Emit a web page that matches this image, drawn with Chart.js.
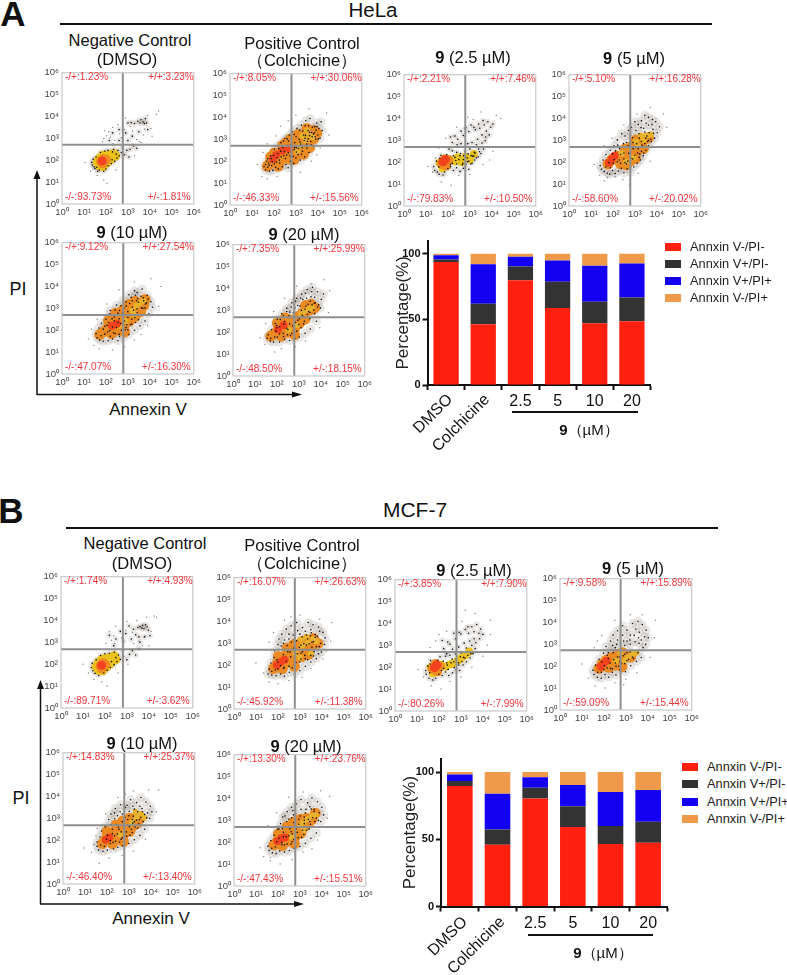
<!DOCTYPE html>
<html>
<head>
<meta charset="utf-8">
<script src="https://cdn.jsdelivr.net/npm/chart.js@4"></script>
<style>
  html, body { margin: 0; padding: 0; background: #fff; }
  #page { position: relative; width: 787px; height: 975px; overflow: hidden; font-family: "Liberation Sans", Arial, sans-serif; color: #111; }
  #page canvas { position: absolute; }
  .txt { position: absolute; white-space: nowrap; transform: translate(-50%, -50%); line-height: 1; }
  .rule { position: absolute; background: #111; }
  .swatch { position: absolute; width: 16px; height: 8px; }
  .leg { position: absolute; white-space: nowrap; font-size: 12.8px; line-height: 1; transform: translateY(-50%); color: #222; }
  svg { position: absolute; left: 0; top: 0; }
</style>
</head>
<body>
<div id="page"></div>
<script>
// ==========================
// BAR DATA
// ==========================
const barLabels = ["DMSO", "Colchicine", "2.5", "5", "10", "20"];
const seriesNames = ["Annxin V-/PI-", "Annxin V+/PI-", "Annxin V+/PI+", "Annxin V-/PI+"];
const seriesColors = ["#ff2010", "#333333", "#1400f0", "#ee9a4a"];

const helaLiveEarly = [93.73, 46.33, 79.83, 58.60, 47.07, 48.50];
const helaEarly = [1.81, 15.56, 10.50, 20.02, 16.30, 18.15];
const helaLate = [3.23, 30.06, 7.46, 16.28, 27.54, 25.99];
const helaNecro = [1.23, 8.05, 2.21, 5.10, 9.12, 7.35];

const mcfLiveEarly = [89.71, 45.92, 80.26, 59.09, 46.40, 47.43];
const mcfEarly = [3.62, 11.38, 7.99, 15.44, 13.40, 15.51];
const mcfLate = [4.93, 26.63, 7.90, 15.89, 25.37, 23.76];
const mcfNecro = [1.74, 16.07, 3.85, 9.58, 14.83, 13.30];

// ==========================
// QUADRANT GATES (log10 units)
// ==========================
const gateX = [2.77, 2.80, 2.79, 2.79, 2.79, 2.79, 2.82, 2.77, 2.80, 2.76, 2.79, 2.79];
const gateY = [2.71, 2.71, 2.70, 2.70, 2.70, 2.68, 2.68, 2.71, 2.70, 2.73, 2.68, 2.70];
const decadeTicks = ["10⁰", "10¹", "10²", "10³", "10⁴", "10⁵", "10⁶"];

// ==========================
// FLOW DOTS: x,y,x,y... in log10 units, hand estimated samples of each cloud
// ==========================
const a1Faint = [1.05,1.9,1.3,1.5,1.6,1.3,1.9,1.1,2.05,.95,2.4,2.9,2.03,3.12,1.85,2.85,1.95,3.35,2.3,3.5,2.62,3.2,2.9,3.93,3.1,3.55,3.4,2.95,3.7,3.15,4.05,3.45,4.3,4.1,4.4,4.25,3.9,4.05,2.8,2.05,3.3,2.2,2.45,1.55,2.7,3.03,2.2,3.05,3.6,2.8,4.1,3.1,2.12,3.3,2.55,3.62,2.84,3.4,3.22,3.32,3.53,2.86,1.9,2.98,2.33,2.76,3.75,3.42];
const a1Dots = [1.35,1.9,1.42,2.05,1.38,1.78,1.5,1.62,1.55,2.15,1.62,1.5,1.7,1.55,1.75,2.35,1.9,1.5,2.0,1.6,2.1,1.75,2.25,1.85,2.4,1.95,2.5,2.1,2.6,2.2,2.55,2.45,2.35,2.5,2.1,2.45,1.95,2.42,2.7,2.35,2.85,2.25,2.95,2.45,3.1,2.5,3.05,2.15,3.25,2.65,3.4,2.55,2.75,2.6,2.28,2.02,3.0,3.7,3.15,3.72,3.3,3.68,3.45,3.78,3.55,3.7,3.6,3.85,3.7,3.75,3.75,3.68,3.8,3.9,3.85,3.7,2.6,3.4,2.9,3.25,3.2,3.1,3.5,3.3,3.9,3.4,2.3,3.25,2.15,2.9,2.6,2.9,3.0,2.9,1.46,1.7,1.58,1.68,2.3,2.38,2.47,2.28];
const a1Warm = [1.62,1.92,1.72,2.08,1.86,2.2,2.05,2.2,2.2,2.22,2.33,2.28,1.72,1.76,1.86,1.72,2.05,1.9,2.22,2.06,2.42,2.2];
const a1Fill = [1.78,1.95,1.9,2.05,1.85,1.85,2.0,2.02];
const a1Core = [1.83,1.97];
const a1Specks = [];

const a2Faint = [1.25,1.85,1.45,1.3,1.7,1.2,2.15,1.3,2.8,1.1,3.2,1.5,3.7,2.0,4.1,2.6,4.5,3.2,4.4,4.2,3.6,4.4,3.0,4.1,2.3,3.6,1.7,2.8,1.5,2.4,3.95,2.3,2.65,3.85,2.1,3.15];
const a2Dots = [1.55,1.75,1.62,1.6,1.68,2.0,1.72,1.72,1.8,1.55,1.85,2.25,1.9,1.8,1.95,1.58,2.02,2.55,2.08,1.72,2.15,2.7,2.2,1.65,2.25,2.05,2.32,2.85,2.38,1.75,2.45,2.25,2.5,3.05,2.55,1.85,2.6,2.72,2.65,1.7,2.7,3.2,2.75,2.0,2.8,2.4,2.85,3.35,2.9,1.9,2.95,2.85,3.0,2.15,3.05,3.5,3.1,2.3,3.15,3.0,3.2,2.05,3.25,3.65,3.3,2.45,3.35,3.2,3.4,2.2,3.45,3.85,3.5,2.6,3.55,3.4,3.6,2.4,3.65,3.95,3.7,2.75,3.75,3.55,3.8,2.7,3.85,3.3,3.9,3.0,3.95,3.75,4.0,3.2,4.05,3.5,4.1,3.05,4.15,3.8,4.2,3.4,3.02,2.62,2.41,2.63,2.18,2.35,1.88,2.12,2.58,2.28,3.22,2.78,3.42,3.05,3.62,3.17,3.31,3.38,3.01,3.12,2.84,2.72,2.6,3.02,2.31,2.46,2.12,1.96,1.76,1.92,3.71,3.31,3.52,2.91,3.86,3.58,2.78,2.18,2.92,2.52,3.28,2.62];
const a2Warm = [3.2,2.7,3.45,2.95,3.6,3.2,3.3,3.15,3.75,3.1,3.5,3.4,3.05,2.45];
const a2Fill = [1.82,1.92,2.08,2.08,2.35,2.3,2.02,2.38,2.6,2.55,2.88,2.48,3.08,2.78,3.36,2.98,3.58,3.18,3.28,2.58,2.68,2.12,3.8,3.02,2.3,2.0,2.55,2.85,1.85,2.2,3.1,2.35,2.2,1.78,2.92,2.08,3.35,2.32,3.62,2.62,3.8,3.4,3.5,3.5,3.1,3.22,2.75,3.0,2.4,2.72,1.7,1.78,3.95,3.28];
const a2Core = [2.1,2.28,2.38,2.48,2.68,2.58,1.95,2.1];
const a2Specks = [1.78,1.82,1.92,1.98,2.02,1.88,2.14,2.16,2.26,1.92,2.33,2.2,2.47,2.44,2.52,2.12,2.65,2.38,2.73,2.25,2.78,2.76,2.88,2.22,2.94,2.62,3.02,2.42,3.12,2.58,3.18,2.88,3.25,2.32,3.32,2.72,3.38,2.95,3.44,3.18,3.5,2.78,3.56,3.02,3.62,3.32,3.68,2.9,3.74,3.12,3.8,3.25,3.88,3.12,3.42,3.62,3.58,3.62,3.18,3.42,2.92,3.22,2.66,2.92,2.44,2.92,2.22,2.58,1.98,2.26,1.72,2.12,1.62,1.85,3.92,3.42,4.02,3.02,3.96,3.58];

const a3Faint = [1.1,1.8,1.3,1.55,1.7,1.1,2.15,.95,2.5,1.4,3.0,1.45,3.6,1.9,4.05,2.5,4.4,4.0,4.2,4.15,3.5,4.3,2.9,4.05,2.4,3.6,1.9,3.1,1.6,2.65,2.3,3.2,2.75,3.55,3.15,3.95,1.45,2.2,3.9,2.1];
const a3Dots = [1.35,1.8,1.4,1.62,1.48,2.05,1.52,1.55,1.6,1.45,1.68,2.32,1.78,1.42,1.85,1.55,2.0,1.7,2.12,1.8,2.25,1.62,2.4,1.75,2.55,1.58,2.7,1.72,2.82,1.9,2.95,1.68,3.1,1.95,3.22,2.1,3.38,2.25,3.5,2.4,3.62,2.6,3.4,2.6,3.2,2.45,3.05,2.3,2.88,2.2,2.7,2.12,2.55,2.3,2.4,2.45,2.2,2.52,2.05,2.6,2.78,2.48,3.0,2.6,3.3,2.8,3.55,2.88,3.7,2.98,2.2,2.9,2.45,3.05,2.7,3.22,2.95,3.4,3.18,3.6,3.4,3.75,3.6,3.9,3.82,3.85,3.95,3.6,3.75,3.42,3.55,3.25,3.35,3.05,3.1,2.9,2.9,2.85,2.6,2.85,2.42,2.8,3.65,3.7,3.45,3.55,3.25,3.48,3.05,3.7,2.82,3.58,2.6,3.42,2.32,3.2,2.12,3.15,4.05,3.75,3.88,3.25,3.72,3.15,2.68,1.95,2.95,2.05,3.18,2.28];
const a3Warm = [1.62,1.98,1.75,1.72,1.95,1.85,2.1,2.12,2.3,2.05,2.45,2.22,2.62,2.0,2.8,2.25,3.0,2.12,3.18,2.38];
const a3Fill = [1.72,1.92,1.85,2.12,1.92,1.85,2.02,2.1];
const a3Core = [1.78,2.02,1.88,2.12];
const a3Specks = [2.2,1.95,2.32,2.22,2.4,1.92,2.5,2.12,2.58,2.4,2.66,1.88,2.72,2.3,2.88,2.02,2.92,2.38,3.04,1.92,3.12,2.28,3.24,2.42,3.3,2.2,3.44,2.48,2.25,2.3,1.58,1.78,1.62,2.18,1.95,2.35,2.12,1.9,2.36,2.08];

const a4Faint = [1.15,1.9,1.4,1.4,1.6,1.15,2.45,1.2,2.75,.95,3.15,1.5,3.7,2.05,4.1,2.7,4.45,3.6,4.3,4.2,3.7,4.5,3.1,4.2,2.5,3.7,1.95,3.1,1.6,2.75,1.75,1.3,2.1,1.35];
const a4Dots = [1.42,1.85,1.48,1.68,1.55,2.1,1.6,1.58,1.68,2.35,1.75,1.5,1.85,1.45,1.98,1.62,2.1,1.48,2.25,1.6,2.38,1.72,2.5,1.52,2.65,1.7,2.8,1.55,2.95,1.78,3.1,1.95,3.25,2.1,3.38,2.3,3.5,2.55,3.62,2.75,3.75,2.95,3.9,3.1,4.02,3.35,4.12,3.62,3.95,3.85,3.8,3.95,3.62,4.05,3.45,4.15,3.3,3.9,3.15,3.72,3.0,3.85,2.85,3.6,2.7,3.45,2.55,3.2,2.4,3.3,2.2,3.02,2.05,2.75,1.88,2.55,2.3,2.62,2.62,2.9,2.9,3.12,3.18,3.3,3.4,3.55,3.62,3.7,3.82,3.5,3.55,3.2,3.3,2.95,3.02,2.68,2.75,2.4,2.5,2.15,2.2,2.02,2.9,2.15,3.12,2.42,3.35,2.72,3.62,3.0,3.2,2.22,2.62,1.92,2.35,1.95,2.05,2.12,1.82,1.98,3.05,3.45,2.8,3.22];
const a4Warm = [3.15,2.75,3.4,3.0,3.55,3.22,3.28,3.22,3.05,2.95,3.72,3.28,2.6,2.02,2.95,2.22,2.4,2.4];
const a4Fill = [1.78,1.92,1.95,2.12,2.18,2.28,2.42,2.1,2.65,2.28,2.9,2.4,2.55,2.6,2.85,2.72,3.1,2.5,3.2,2.82,2.35,1.92,2.78,2.05,3.38,2.62,3.02,2.18,3.42,3.05,3.05,3.02,2.62,1.88,3.62,3.12];
const a4Core = [1.82,1.98,1.95,2.15,2.08,2.3];
const a4Specks = [1.68,1.78,1.88,1.75,2.02,1.95,2.28,2.1,2.35,2.35,2.5,2.42,2.55,1.98,2.68,2.05,2.72,2.42,2.82,2.18,2.92,2.62,3.0,2.32,3.08,2.85,3.15,2.62,3.22,2.38,3.3,2.5,3.32,2.78,3.4,2.42,3.45,2.85,3.5,3.1,3.58,2.95,3.65,3.35,3.72,3.05,3.85,3.32,3.45,3.38,3.2,3.1,2.92,2.9,2.7,2.75,2.12,2.52,1.98,2.38,2.22,2.78,2.48,2.85,3.78,3.72,3.52,3.78,3.28,3.58];

const a5Faint = [1.2,1.6,1.45,1.3,1.7,1.15,2.3,1.1,2.85,1.25,3.3,1.55,3.9,2.2,4.4,3.1,4.5,4.0,4.05,4.35,3.3,4.2,2.6,3.85,2.05,3.2,1.6,2.5,1.35,2.05,3.6,1.8];
const a5Dots = [1.55,1.85,1.6,1.65,1.68,2.1,1.72,1.55,1.8,2.32,1.88,1.5,2.0,2.5,2.1,1.52,2.18,2.75,2.3,1.6,2.42,2.92,2.55,1.52,2.68,3.12,2.8,1.65,2.92,3.3,3.05,1.8,3.15,3.5,3.3,2.0,3.42,3.72,3.55,2.2,3.65,3.88,3.78,2.42,3.88,3.6,3.95,2.75,4.05,3.3,4.12,3.05,3.8,3.2,3.6,3.55,3.4,3.35,3.2,3.05,3.0,2.85,2.8,2.6,2.55,2.35,2.3,2.15,2.08,1.92,2.42,1.85,2.7,2.0,2.95,2.25,3.18,2.5,3.42,2.8,3.68,3.0,2.28,2.52,2.55,2.78,2.82,3.0,3.08,3.22,3.35,3.6,2.6,1.82,2.88,2.02,3.12,2.25,3.48,2.48,2.2,2.9,2.48,3.15,2.78,3.38,3.05,3.62,3.3,3.8,3.92,3.42,3.72,3.35,1.95,2.18,2.12,2.35,2.38,2.6];
const a5Warm = [3.2,2.9,3.4,3.12,3.55,3.25,3.7,3.35,2.6,2.2,2.9,2.42,3.3,2.72];
const a5Fill = [1.88,1.92,2.08,2.1,2.3,2.28,2.52,2.45,2.72,2.62,2.95,2.72,3.15,2.85,3.35,3.05,3.55,3.15,3.72,3.12,2.25,1.85,2.55,2.0,2.82,2.2,3.08,2.42,3.32,2.62,2.12,2.45,2.45,2.78,2.8,2.95,3.05,3.18,3.32,3.32,3.58,2.85,3.78,3.4,2.85,1.92,1.72,1.8];
const a5Core = [2.28,2.2,2.5,2.3];
const a5Specks = [1.78,1.75,1.95,1.82,2.05,2.22,2.18,1.98,2.35,1.88,2.38,2.42,2.48,2.12,2.6,2.52,2.68,2.3,2.76,2.78,2.85,2.42,2.92,2.12,3.0,2.58,3.1,2.72,3.18,2.28,3.26,2.92,3.32,2.58,3.42,2.98,3.48,3.28,3.55,2.72,3.62,3.02,3.7,3.48,3.78,3.02,3.85,3.25,2.22,2.68,2.62,2.9,2.92,3.1,3.2,3.35,3.45,3.45,1.88,2.05,2.2,1.72,2.62,1.72,3.0,2.02,3.35,2.35];

const a6Faint = [1.25,1.75,1.45,1.45,1.9,1.1,2.2,1.25,2.85,1.35,3.3,1.6,3.95,2.2,4.35,2.9,4.4,3.9,4.15,4.4,3.55,4.2,2.9,4.1,2.35,3.55,1.85,2.95,1.5,2.4];
const a6Dots = [1.55,1.72,1.6,1.88,1.7,1.6,1.75,2.12,1.85,1.55,1.92,2.4,2.02,2.6,2.12,1.55,2.22,2.85,2.35,1.68,2.45,3.1,2.58,1.62,2.68,3.35,2.82,1.72,2.9,3.55,3.02,1.78,3.12,3.75,3.28,1.95,3.38,3.95,3.52,2.15,3.62,4.05,3.8,2.5,3.85,3.85,3.98,3.1,4.02,3.5,4.12,3.75,3.9,3.25,3.72,3.6,3.52,3.42,3.32,3.2,3.12,3.0,2.95,3.22,2.75,2.9,2.55,2.75,2.35,2.5,2.12,2.25,1.95,2.05,2.5,2.12,2.78,2.1,3.0,2.35,3.25,2.5,3.5,2.62,3.72,2.85,2.45,2.95,2.65,3.15,2.85,3.42,3.08,3.55,3.3,3.78,3.58,3.85,3.7,3.32,3.45,2.95,3.2,2.72,2.95,2.55,2.68,1.95,2.28,1.95,2.02,1.78];
const a6Warm = [3.25,2.95,3.45,3.05,3.6,3.12,3.1,2.85,2.55,2.1,2.9,2.32];
const a6Fill = [1.82,1.88,2.02,2.05,2.22,2.25,2.45,2.4,2.7,2.55,2.95,2.72,3.18,2.88,3.42,3.0,3.6,3.05,2.2,1.82,2.52,2.0,2.8,2.15,3.02,2.4,3.28,2.6,2.02,2.42,2.38,2.65,3.3,3.22,3.55,3.28,3.72,3.12,2.8,1.88,1.72,1.82];
const a6Core = [2.05,2.12,2.3,2.32];
const a6Specks = [1.72,1.72,1.9,1.78,2.0,2.2,2.12,1.92,2.3,1.8,2.32,2.38,2.45,2.18,2.58,2.38,2.62,1.85,2.72,2.28,2.85,2.45,2.9,2.05,3.02,2.62,3.1,2.2,3.15,2.78,3.22,2.38,3.28,3.05,3.38,2.82,3.42,3.28,3.5,2.9,3.6,3.25,3.68,3.02,3.75,3.35,3.85,3.15,3.05,3.2,2.82,3.12,2.58,2.92,2.3,2.75,2.15,2.58,1.98,2.32,3.35,3.55,3.18,3.5,3.55,3.62,2.48,1.88];

const b1Faint = [1.0,2.0,1.25,1.6,1.5,1.3,1.85,1.2,2.1,1.0,2.3,3.1,2.05,2.95,2.2,3.5,2.5,3.75,2.75,3.2,3.0,3.95,3.25,3.45,3.55,3.05,3.85,3.3,4.1,3.5,4.25,4.2,4.35,4.15,3.9,4.15,2.45,2.95,2.85,2.85,3.3,2.95,3.7,2.85,4.0,2.85,2.6,1.6,3.05,2.0,2.4,3.3,3.45,4.0,2.95,3.55];
const b1Dots = [1.38,1.85,1.42,2.05,1.45,1.7,1.55,1.58,1.6,2.2,1.72,1.48,1.8,2.4,1.95,1.6,2.1,1.72,2.25,1.85,2.42,1.98,2.55,2.12,2.7,2.22,2.62,2.42,2.42,2.55,2.2,2.5,2.0,2.48,2.85,2.35,3.0,2.2,3.12,2.45,3.25,2.62,3.4,2.42,3.55,2.72,2.8,2.62,2.3,2.12,2.5,2.3,3.3,3.6,3.5,3.68,3.6,3.72,3.68,3.65,3.72,3.78,3.78,3.62,3.85,3.8,3.92,3.7,3.98,3.55,3.4,3.35,3.1,3.75,2.7,3.5,2.4,2.85,2.2,3.32,2.5,3.15,2.85,3.05,3.2,3.15,3.55,3.25,3.8,3.25,4.05,3.3,3.6,3.0,2.95,3.4];
const b1Warm = [1.62,1.9,1.72,2.08,1.88,2.22,2.08,2.25,2.28,2.28,2.42,2.36,1.72,1.74,1.88,1.72,2.08,1.9,2.25,2.05,2.48,2.22];
const b1Fill = [1.8,1.92,1.92,2.05,1.85,1.82,2.02,1.98];
const b1Core = [1.85,1.95];
const b1Specks = [];

const b2Faint = [1.0,2.1,1.35,1.65,1.6,1.25,2.0,1.15,2.5,1.3,3.1,1.45,3.5,1.85,4.05,2.3,4.4,3.1,4.45,3.95,3.9,4.1,3.0,4.3,2.3,4.05,1.8,3.5,1.45,2.7,1.6,3.05,4.2,2.65,2.6,4.2];
const b2Dots = [1.55,1.6,1.6,1.82,1.68,2.1,1.72,1.55,1.82,2.35,1.85,2.65,1.92,1.52,2.0,2.95,2.05,3.2,2.12,1.6,2.18,3.42,2.3,1.5,2.38,3.65,2.52,1.68,2.6,3.8,2.75,1.6,2.85,3.95,3.0,1.75,3.12,3.72,3.25,1.95,3.38,3.95,3.5,2.15,3.6,3.85,3.75,2.3,3.85,3.75,3.98,2.6,4.05,3.5,4.12,2.95,4.15,3.25,3.9,3.55,3.7,3.4,3.5,3.62,3.3,3.38,3.1,3.3,2.9,3.58,2.7,3.38,2.5,3.42,2.3,3.15,2.15,2.88,2.42,2.9,2.62,3.05,2.85,3.12,3.05,2.92,3.3,2.92,3.55,3.05,3.75,2.85,3.95,3.0,3.5,2.45,3.25,2.3,3.0,2.15,2.75,2.0,2.5,1.95,2.25,1.85,2.0,1.82,2.25,2.48,2.55,2.6,2.8,2.75,3.05,2.55,3.4,2.7,3.65,2.62,3.85,2.52,1.95,2.25];
const b2Warm = [3.1,2.9,3.35,3.05,3.6,3.2,3.3,3.3,3.75,3.1,3.05,3.2,2.8,2.55,3.5,2.55,3.0,2.35];
const b2Fill = [1.8,1.85,1.95,2.05,2.15,2.2,2.32,2.42,2.5,2.5,2.7,2.62,2.92,2.7,3.18,2.72,3.4,2.85,3.6,2.95,2.2,1.85,2.5,2.15,2.8,2.3,3.1,2.4,3.38,2.5,2.02,2.4,2.42,2.78,2.72,2.95,3.05,3.02,3.3,3.12,3.62,3.22,3.82,3.0,2.75,1.95];
const b2Core = [1.95,2.0,2.12,2.15,2.3,2.25];
const b2Specks = [1.72,1.72,1.88,1.78,2.0,2.15,2.12,1.98,2.28,1.9,2.38,2.18,2.45,2.62,2.58,2.38,2.65,1.88,2.72,2.78,2.82,2.12,2.88,2.52,2.98,2.82,3.05,2.28,3.12,2.62,3.18,2.98,3.22,2.45,3.28,2.72,3.35,3.2,3.42,2.98,3.48,3.35,3.55,2.82,3.62,3.08,3.7,3.28,3.8,3.32,3.88,2.85,2.25,3.0,2.5,3.2,2.75,3.15,3.0,3.42,3.25,3.55,3.52,3.48,2.05,2.72,2.28,2.72,3.35,2.25,3.62,2.42];

const b3Faint = [1.05,1.9,1.3,1.55,1.65,1.15,2.1,1.0,2.5,1.35,3.0,1.55,3.5,2.0,4.0,2.5,4.35,3.5,4.35,4.15,3.65,4.45,3.2,4.6,2.8,4.0,2.35,3.65,1.85,3.2,1.6,2.9,2.0,3.5,3.05,4.1,4.2,3.0];
const b3Dots = [1.4,1.85,1.42,1.68,1.5,2.05,1.55,1.5,1.62,2.3,1.72,1.42,1.85,1.5,2.0,1.68,2.15,1.62,2.3,1.78,2.45,1.62,2.62,1.75,2.78,1.88,2.95,1.85,3.1,2.1,3.25,2.25,3.42,2.42,3.55,2.62,3.65,2.85,3.5,3.0,3.25,2.88,3.0,2.65,2.75,2.6,2.5,2.55,2.3,2.5,2.05,2.48,2.22,2.85,2.5,3.05,2.75,3.3,3.0,3.52,3.2,3.72,3.5,3.85,3.72,3.95,3.9,3.75,4.0,3.5,3.85,3.3,3.6,3.3,3.4,3.2,3.15,3.1,2.9,2.92,2.62,2.82,2.4,3.15,2.15,3.22,2.92,3.6,3.35,3.55,3.6,3.62,3.82,3.55,3.68,3.12,3.32,3.85,2.68,3.55,2.35,2.62,2.68,2.25,2.9,2.1,3.12,2.45,3.32,2.55];
const b3Warm = [1.62,2.0,1.72,1.72,1.95,1.82,2.1,2.1,2.3,2.02,2.5,2.12,2.65,2.18,2.85,2.3,3.02,2.42,3.2,2.55,3.38,2.72];
const b3Fill = [1.72,1.92,1.85,2.15,1.92,1.82,2.02,2.05];
const b3Core = [1.8,1.98,1.9,2.1];
const b3Specks = [2.22,1.95,2.35,2.2,2.42,1.9,2.55,2.2,2.6,2.38,2.7,1.98,2.78,2.35,2.9,2.2,2.98,2.48,3.05,2.25,3.18,2.42,3.3,2.72,3.45,2.62,2.2,2.28,1.58,1.75,1.6,2.15,1.95,2.32,2.12,1.85,2.38,2.1];

const b4Faint = [1.0,2.1,1.3,1.45,1.6,1.1,2.05,1.0,2.5,1.25,3.0,1.4,3.5,1.7,4.1,2.4,4.3,3.3,4.35,4.1,3.75,4.35,3.2,4.35,2.5,4.1,1.9,3.4,1.55,2.85,1.7,3.15,2.9,1.15];
const b4Dots = [1.5,1.82,1.55,1.62,1.62,2.05,1.7,1.5,1.78,2.32,1.88,1.45,1.98,2.6,2.05,1.62,2.1,2.9,2.22,1.5,2.3,3.15,2.38,1.72,2.42,3.42,2.55,1.6,2.62,3.62,2.72,1.82,2.85,3.85,2.98,1.75,3.05,3.65,3.22,2.02,3.3,3.95,3.48,2.22,3.55,4.05,3.7,2.4,3.75,3.9,3.9,3.0,3.92,3.65,4.02,3.3,3.85,3.35,3.62,3.55,3.45,3.7,3.2,3.42,3.05,3.15,2.85,3.42,2.62,3.2,2.4,2.95,2.2,2.62,2.52,2.85,2.75,3.0,2.95,2.95,3.2,3.0,3.42,3.12,3.6,3.05,3.78,2.85,3.55,2.62,3.3,2.42,3.05,2.25,2.8,2.12,2.55,2.0,2.3,1.9,2.0,1.85,1.9,2.2,2.2,2.35,2.72,2.42,2.95,2.55,3.2,2.65,2.32,2.72];
const b4Warm = [2.95,2.25,3.1,2.42,3.3,2.55,3.48,2.62,2.75,2.6,2.55,2.25];
const b4Fill = [1.78,1.9,1.92,2.1,2.12,2.28,2.35,2.4,2.58,2.28,2.22,1.95,2.5,2.05,2.8,2.3,3.02,2.48,2.62,2.55,2.85,2.62,2.82,1.98,3.22,2.42];
const b4Core = [1.85,1.98,1.98,2.12,2.12,2.25];
const b4Specks = [1.72,1.72,1.88,1.72,2.02,2.02,2.15,1.92,2.28,2.15,2.38,1.88,2.45,2.3,2.52,2.15,2.62,2.42,2.68,2.0,2.72,2.22,2.88,2.48,2.95,2.12,3.05,2.62,3.12,2.32,3.28,2.72,3.35,2.35,2.42,2.62,2.15,2.5,2.7,2.72,2.58,3.0,2.9,3.15,3.18,3.2,3.38,3.42,3.58,3.3,3.7,3.2];

const b5Faint = [1.3,1.45,1.4,1.8,.95,1.65,1.65,.95,2.1,1.2,2.7,1.3,3.2,1.5,3.75,2.05,4.25,3.3,4.35,4.3,3.9,4.3,3.2,4.25,2.5,3.95,1.95,3.2,1.55,2.55,1.5,2.2,4.05,2.7,2.85,4.1];
const b5Dots = [1.55,1.72,1.55,1.92,1.62,1.55,1.68,2.15,1.75,2.42,1.82,1.5,1.92,2.62,2.02,1.55,2.08,2.95,2.18,3.2,2.3,1.6,2.38,3.45,2.5,1.68,2.62,3.62,2.72,1.75,2.85,3.5,3.0,1.85,3.08,3.85,3.25,2.02,3.35,3.72,3.5,2.22,3.55,3.95,3.72,2.5,3.78,3.75,3.95,3.0,3.98,3.55,4.05,3.3,3.85,3.25,3.6,3.45,3.4,3.3,3.2,3.1,3.02,3.32,2.82,3.05,2.6,3.3,2.35,2.98,2.18,2.72,2.45,2.72,2.7,2.85,2.95,2.95,3.25,2.85,3.48,2.95,3.65,2.85,3.4,2.55,3.15,2.35,2.9,2.18,2.65,2.05,2.4,1.95,2.15,1.85,1.98,2.05,2.25,2.3,2.55,2.5,2.78,2.6,3.02,2.62,2.35,3.25,2.92,3.6,3.18,3.55];
const b5Warm = [3.15,2.85,3.35,3.05,3.55,3.2,3.7,3.05,3.3,3.3,2.6,2.25];
const b5Fill = [1.8,1.85,1.95,2.05,2.1,2.2,2.3,2.35,2.52,2.42,2.75,2.5,2.98,2.62,3.2,2.68,2.25,1.85,2.5,2.05,2.78,2.28,3.05,2.42,3.38,2.78,2.0,2.4,2.42,2.7,2.72,2.88,3.02,3.0,3.3,3.0,3.52,3.02,2.75,1.95];
const b5Core = [1.95,2.02,2.1,2.12];
const b5Specks = [1.72,1.78,1.88,1.72,2.02,2.22,2.15,1.98,2.28,1.9,2.35,2.2,2.48,2.28,2.58,1.92,2.65,2.38,2.7,2.12,2.88,2.38,2.92,2.68,3.05,2.22,3.12,2.5,3.18,2.78,3.28,2.6,3.35,2.92,3.45,2.75,3.55,3.05,3.62,3.3,3.72,3.18,3.82,3.02,2.25,2.5,2.52,2.6,2.78,2.75,3.0,3.12,3.15,2.95,2.48,3.12,2.7,3.2,3.25,3.42,3.5,3.55];

const b6Faint = [1.2,1.75,1.35,1.35,1.65,1.15,2.1,1.0,2.65,1.2,3.15,1.55,3.8,2.1,4.25,3.1,4.35,4.1,3.95,4.35,3.15,4.3,2.5,4.05,1.95,3.35,1.55,2.75,1.65,1.3,3.55,1.7];
const b6Dots = [1.55,1.82,1.6,1.62,1.68,2.08,1.75,1.52,1.82,2.32,1.92,1.48,1.98,2.6,2.08,1.6,2.12,2.85,2.22,3.15,2.3,1.55,2.42,3.4,2.52,1.62,2.62,3.6,2.75,1.72,2.85,3.75,3.0,1.8,3.05,3.95,3.25,1.95,3.35,3.8,3.5,2.18,3.55,4.02,3.75,2.42,3.8,3.85,3.95,2.95,4.0,3.6,4.08,3.25,3.88,3.35,3.65,3.5,3.45,3.62,3.25,3.35,3.05,3.5,2.82,3.3,2.62,3.12,2.4,2.95,2.2,2.62,2.48,2.72,2.72,2.9,2.95,3.05,3.2,3.0,3.45,2.95,3.68,2.95,3.42,2.6,3.18,2.35,2.92,2.2,2.65,2.02,2.42,1.92,2.18,1.88,1.95,2.02,2.25,2.25,2.6,2.48,2.82,2.62,3.05,2.7,2.32,3.2,2.68,3.45];
const b6Warm = [3.15,2.9,3.35,3.05,3.55,3.2,3.72,3.25,3.0,2.75,2.6,2.25,3.2,2.55];
const b6Fill = [1.82,1.88,1.98,2.05,2.15,2.2,2.35,2.35,2.55,2.45,2.8,2.55,3.0,2.68,3.22,2.72,2.2,1.85,2.5,2.05,2.8,2.28,3.05,2.42,3.4,2.9,2.02,2.38,2.42,2.72,2.72,2.92,3.02,3.05,3.3,3.1,3.55,3.05,3.7,3.32,2.75,1.95];
const b6Core = [1.98,2.05,2.15,2.18,2.32,2.22];
const b6Specks = [1.72,1.72,1.88,1.78,2.05,2.18,2.18,1.98,2.3,1.88,2.38,2.25,2.5,2.3,2.6,1.92,2.65,2.38,2.72,2.12,2.88,2.45,2.95,2.82,3.08,2.22,3.12,2.55,3.2,2.85,3.3,2.55,3.38,3.05,3.48,2.82,3.58,3.12,3.65,3.4,3.75,3.1,3.85,3.0,2.25,2.45,2.55,2.62,2.8,2.78,3.02,3.2,3.2,3.15,2.5,3.05,2.72,3.25,3.28,3.5,3.52,3.52,2.05,2.6];

// ==========================
// QUADRANT TEXT
// ==========================
const ulText = ["-/+:1.23%","-/+:8.05%","-/+:2.21%","-/+:5.10%","-/+:9.12%","-/+:7.35%","-/+:1.74%","-/+:16.07%","-/+:3.85%","-/+:9.58%","-/+:14.83%","-/+:13.30%"];
const urText = ["+/+:3.23%","+/+:30.06%","+/+:7.46%","+/+:16.28%","+/+:27.54%","+/+:25.99%","+/+:4.93%","+/+:26.63%","+/+:7.90%","+/+:15.89%","+/+:25.37%","+/+:23.76%"];
const llText = ["-/-:93.73%","-/-:46.33%","-/-:79.83%","-/-:58.60%","-/-:47.07%","-/-:48.50%","-/-:89.71%","-/-:45.92%","-/-:80.26%","-/-:59.09%","-/-:46.40%","-/-:47.43%"];
const lrText = ["+/-:1.81%","+/-:15.56%","+/-:10.50%","+/-:20.02%","+/-:16.30%","+/-:18.15%","+/-:3.62%","+/-:11.38%","+/-:7.99%","+/-:15.44%","+/-:13.40%","+/-:15.51%"];

const panelClouds = [
  [a1Faint,a1Dots,a1Warm,a1Fill,a1Core,a1Specks],[a2Faint,a2Dots,a2Warm,a2Fill,a2Core,a2Specks],
  [a3Faint,a3Dots,a3Warm,a3Fill,a3Core,a3Specks],[a4Faint,a4Dots,a4Warm,a4Fill,a4Core,a4Specks],
  [a5Faint,a5Dots,a5Warm,a5Fill,a5Core,a5Specks],[a6Faint,a6Dots,a6Warm,a6Fill,a6Core,a6Specks],
  [b1Faint,b1Dots,b1Warm,b1Fill,b1Core,b1Specks],[b2Faint,b2Dots,b2Warm,b2Fill,b2Core,b2Specks],
  [b3Faint,b3Dots,b3Warm,b3Fill,b3Core,b3Specks],[b4Faint,b4Dots,b4Warm,b4Fill,b4Core,b4Specks],
  [b5Faint,b5Dots,b5Warm,b5Fill,b5Core,b5Specks],[b6Faint,b6Dots,b6Warm,b6Fill,b6Core,b6Specks]
];

// plot area left, top, of each flow panel
const panelBoxes = [
  [62,72],[230,73],[404,74],[569,74],[62,242],[233,244],
  [61,576],[234,577],[395,579],[560,578],[63,752],[234,754]
];
const sparsePanels = [0, 2, 6, 8]; // yellow halo panels, the rest are dense orange

// ==========================
// HELPERS
// ==========================
const page = document.getElementById("page");
const FONT = '"Liberation Sans", Arial, sans-serif';

function toPoints(list) {
  const out = [];
  for (let i = 0; i < list.length; i += 2) out.push({ x: list[i], y: list[i + 1] });
  return out;
}

function label(html, cx, cy, size, extra) {
  const d = document.createElement("div");
  d.className = "txt";
  d.innerHTML = html;
  d.style.left = cx + "px";
  d.style.top = cy + "px";
  d.style.fontSize = size + "px";
  if (extra) d.style.cssText += extra;
  page.appendChild(d);
}

function rule(x, y, w, h) {
  const d = document.createElement("div");
  d.className = "rule";
  d.style.cssText += `left:${x}px;top:${y}px;width:${w}px;height:${h}px`;
  page.appendChild(d);
}

function addCanvas(left, top, w, h) {
  const c = document.createElement("canvas");
  c.width = w;
  c.height = h;
  c.style.left = left + "px";
  c.style.top = top + "px";
  page.appendChild(c);
  return c;
}

// ==========================
// FLOW PANELS
// ==========================
const quadrantText = {
  id: "quadrantText",
  afterDraw(chart, args, opts) {
    const a = chart.chartArea;
    const g = chart.ctx;
    g.save();
    g.strokeStyle = "#c9c9c9";
    g.lineWidth = 1.2;
    g.strokeRect(a.left, a.top, a.right - a.left, a.bottom - a.top);
    g.font = "10px " + FONT;
    g.fillStyle = "#f0353a";
    g.textBaseline = "middle";
    g.textAlign = "left";
    g.fillText(ulText[opts.i], a.left + 3, a.top + 5);
    g.fillText(llText[opts.i], a.left + 3, a.bottom - 7);
    g.textAlign = "right";
    g.fillText(urText[opts.i], a.right, a.top + 5);
    g.fillText(lrText[opts.i], a.right - 3, a.bottom - 7);
    g.restore();
  }
};

function flowPanel(i) {
  const [left, top] = panelBoxes[i];
  const [faint, dots, warm, fill, core, specks] = panelClouds[i];
  const sparse = sparsePanels.includes(i);
  const layer = (data, color, r, order) => ({
    type: "scatter", data: toPoints(data), backgroundColor: color,
    pointRadius: r, pointBorderWidth: 0, order
  });
  const gate = (data) => ({
    type: "scatter", data, showLine: true, borderColor: "#8f8f8f", borderWidth: 2,
    pointRadius: 0, order: 0
  });
  new Chart(addCanvas(left - 24, top - 8, 166, 164), {
    data: {
      datasets: [
        gate([{ x: gateX[i], y: 0 }, { x: gateX[i], y: 6 }]),
        gate([{ x: 0, y: gateY[i] }, { x: 6, y: gateY[i] }]),
        layer(specks, "#111", 0.8, 1),
        layer(dots, "#111", 0.8, 2),
        layer(core, "#f2431e", sparse ? 4.5 : 4, 3),
        sparse ? layer(fill, "#ee8a1e", 5, 4) : layer(warm, "#e8b32a", 3, 4),
        sparse ? layer(warm, "#e9c21c", i % 6 === 0 ? 5 : 4, 5) : layer(fill, "#ea8a22", 5.5, 5),
        layer(dots, "rgba(60,50,30,0.11)", sparse ? 3 : 4.5, 6),
        layer(faint, "#8a8a8a", 0.75, 7)
      ]
    },
    options: {
      responsive: false,
      animation: false,
      layout: { padding: { top: 8, right: 10 } },
      plugins: { legend: { display: false }, tooltip: { enabled: false }, quadrantText: { i } },
      scales: {
        x: {
          type: "linear", min: 0, max: 6,
          afterFit(s) { s.height = 24; },
          grid: { display: false, drawTicks: false }, border: { display: false },
          ticks: { stepSize: 1, padding: 3, maxRotation: 0, font: { size: 9.5, family: FONT }, color: "#444",
            callback: v => decadeTicks[v] }
        },
        y: {
          type: "linear", min: 0, max: 6,
          afterFit(s) { s.width = 24; },
          grid: { display: false, drawTicks: false }, border: { display: false },
          ticks: { stepSize: 1, padding: 3, font: { size: 9.5, family: FONT }, color: "#444",
            callback: v => decadeTicks[v] }
        }
      }
    },
    plugins: [quadrantText]
  });
}

// ==========================
// STACKED BARS
// ==========================
const barTicks = {
  id: "barTicks",
  afterDraw(chart, args, opts) {
    const g = chart.ctx;
    const s = chart.scales.x;
    const base = chart.chartArea.bottom;
    g.save();
    g.fillStyle = "#111";
    g.font = "16px " + FONT;
    barLabels.forEach((t, i) => {
      const x = s.getPixelForValue(i);
      if (i < 2) {
        g.save();
        g.translate(x + opts.rotX, base + opts.rotY);
        g.rotate(-Math.PI / 4);
        g.textAlign = "right";
        g.textBaseline = "middle";
        g.fillText(t, 0, 0);
        g.restore();
      } else {
        g.textAlign = "center";
        g.textBaseline = "middle";
        g.fillText(t, x, base + opts.flatY);
      }
    });
    g.restore();
  }
};

function barChart(cfg, series) {
  new Chart(addCanvas(cfg.left, cfg.top, cfg.w, cfg.h), {
    type: "bar",
    data: {
      labels: barLabels,
      datasets: series.map((values, k) => ({
        label: seriesNames[k], data: values, backgroundColor: seriesColors[k],
        barPercentage: 0.68, categoryPercentage: 1
      }))
    },
    options: {
      responsive: false,
      animation: false,
      layout: { padding: { top: cfg.padTop, right: cfg.padRight } },
      plugins: { legend: { display: false }, tooltip: { enabled: false }, barTicks: cfg.ticks },
      scales: {
        x: {
          stacked: true,
          afterFit(s) { s.height = cfg.bottom; },
          border: { color: "#111", width: 2 },
          grid: { drawOnChartArea: false, color: "#111", tickLength: 5, tickWidth: 2 },
          ticks: { display: false }
        },
        y: {
          stacked: true, min: 0, max: 110,
          afterFit(s) { s.width = cfg.axisW; },
          border: { color: "#111", width: 2 },
          grid: { drawOnChartArea: false, color: "#111", tickLength: 5, tickWidth: 2 },
          title: { display: true, text: "Percentage(%)", font: { size: 17, family: FONT }, color: "#222", padding: { top: cfg.titlePad, bottom: 0 } },
          ticks: { stepSize: 50, includeBounds: false, padding: 2, color: "#111", font: { size: 11, weight: "bold", family: FONT } }
        }
      }
    },
    plugins: [barTicks]
  });
}

function legend(swatchX, textX, rows) {
  seriesNames.forEach((name, k) => {
    const s = document.createElement("div");
    s.className = "swatch";
    s.style.cssText += `left:${swatchX}px;top:${rows[k] - 4}px;background:${seriesColors[k]}`;
    page.appendChild(s);
    const t = document.createElement("div");
    t.className = "leg";
    t.textContent = name;
    t.style.left = textX + "px";
    t.style.top = rows[k] + "px";
    page.appendChild(t);
  });
}

// ==========================
// RENDER
// ==========================
panelBoxes.forEach((box, i) => flowPanel(i));

barChart({ left: 383, top: 232, w: 278, h: 225, padTop: 4.5, padRight: 10.5, axisW: 44.5, bottom: 72, titlePad: 10,
  ticks: { rotX: 4, rotY: 12, flatY: 17 } }, [helaLiveEarly, helaEarly, helaLate, helaNecro]);
barChart({ left: 397, top: 750, w: 280, h: 225, padTop: 6, padRight: 10, axisW: 44, bottom: 68.5, titlePad: 3,
  ticks: { rotX: 5, rotY: 13, flatY: 17 } }, [mcfLiveEarly, mcfEarly, mcfLate, mcfNecro]);
legend(665, 690, [247, 264, 281, 298]);
legend(682, 707, [767, 784, 802, 819]);

// titles
label("<b>A</b>", 13, 13, 35);
label("<b>B</b>", 11, 510, 35);
label("HeLa", 373, 10, 20.5);
label("MCF-7", 415, 509, 21);
rule(60, 23, 652, 2);
rule(66, 527, 652, 2);

label("Negative Control", 130, 40, 16.5);
label("(DMSO)", 127, 59, 16.5);
label("Positive Control", 302, 43, 16.5);
label("（Colchicine）", 302, 60, 16.5);
label("<b>9</b> (2.5 µM)", 473, 57, 16.5);
label("<b>9</b> (5 µM)", 634, 58, 16.5);
label("<b>9</b> (10 µM)", 132, 232, 16.5);
label("<b>9</b> (20 µM)", 304, 234, 16.5);

label("Negative Control", 145, 543, 16.5);
label("(DMSO)", 142, 563, 16.5);
label("Positive Control", 302, 545, 16.5);
label("（Colchicine）", 302, 563, 16.5);
label("<b>9</b> (2.5 µM)", 474, 570, 16.5);
label("<b>9</b> (5 µM)", 633, 568, 16.5);
label("<b>9</b> (10 µM)", 142, 743, 16.5);
label("<b>9</b> (20 µM)", 306, 746, 16.5);

label("PI", 18, 289, 18);
label("Annexin V", 148, 409, 17);
label("PI", 21, 798, 18);
label("Annexin V", 151, 918, 17);

rule(512, 411, 126, 1.5);
label("<b>9</b>（µM）", 589, 429, 15);
rule(528, 934, 125, 1.5);
label("<b>9</b>（µM）", 603, 952, 15);

// axis arrows
page.insertAdjacentHTML("beforeend", `<svg width="787" height="975">
  <path d="M37 395V176M37 394.5H296M40.5 904V684M40 904H297" stroke="#111" stroke-width="1.5" fill="none"/>
  <path d="M37 170l-3.5 9h7zM302 394.5l-10 -3v6zM40.5 680l-3.5 9h7zM304 904l-10 -3v6z" fill="#111"/>
</svg>`);
</script>
</body>
</html>
